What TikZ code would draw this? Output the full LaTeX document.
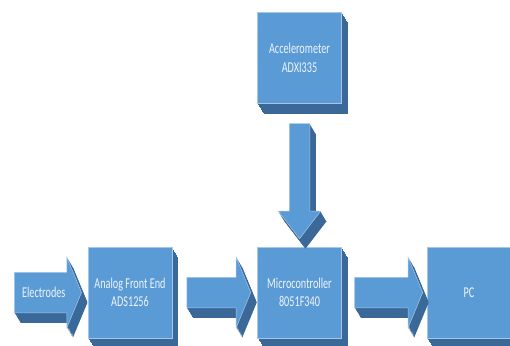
\documentclass[tikz,border=0pt]{standalone}
\usepackage{fontspec}
\setmainfont{Carlito}[FakeStretch=0.68]
\usetikzlibrary{shapes.arrows,shadows,positioning}

\definecolor{faceblue}{HTML}{5B9BD5}
\definecolor{sideblue}{HTML}{3A6898}
\definecolor{edgeblue}{HTML}{A4C6E8}
\definecolor{labelwhite}{HTML}{EEF4FB}

\tikzset{
  % stacked copies give the bevel below and to the right
  deep/.style={
    general shadow={fill=sideblue, shadow xshift=0.6pt, shadow yshift=-1pt},
    general shadow={fill=sideblue, shadow xshift=1.2pt, shadow yshift=-2pt},
    general shadow={fill=sideblue, shadow xshift=1.8pt, shadow yshift=-3pt},
    general shadow={fill=sideblue, shadow xshift=2.4pt, shadow yshift=-4pt},
    general shadow={fill=sideblue, shadow xshift=3pt, shadow yshift=-5pt},
    general shadow={fill=sideblue, shadow xshift=3.6pt, shadow yshift=-6pt},
    general shadow={fill=sideblue, shadow xshift=4.2pt, shadow yshift=-7pt},
    general shadow={fill=sideblue, shadow xshift=4.8pt, shadow yshift=-8pt},
    general shadow={fill=sideblue, shadow xshift=5.4pt, shadow yshift=-9pt},
    general shadow={fill=sideblue, shadow xshift=6pt, shadow yshift=-10pt}
  },
  blockbox/.style={draw=edgeblue, line width=0.5pt, fill=faceblue, deep,
    minimum width=84pt, minimum height=91pt, inner sep=0pt, align=center,
    text=labelwhite, font=\fontsize{15}{18.5}\selectfont},
  flowarrow/.style={single arrow, draw=edgeblue, line width=0.5pt, fill=faceblue, deep,
    single arrow tip angle=135, inner xsep=0pt, inner ysep=15pt,
    text height=0pt, text depth=0pt, single arrow head extend=20pt,
    minimum height=64pt}
}

\begin{document}
\begin{tikzpicture}[x=1pt,y=-1pt]
\pgfmathsetmacro{\gap}{85} % space between two blocks, pt
\clip (0,0) rectangle (510,345);
\useasboundingbox (0,0) rectangle (510,345);

% Blocks of the chain
\node[blockbox] (afe) at (130,292.5) {Analog Front End\\ADS1256};
\node[blockbox, right=\gap pt of afe] (mcu) {Microcontroller\\8051F340};
\node[blockbox, right=\gap pt of mcu] (pc) {PC};
\node[blockbox, above=143pt of mcu] (acc) {Accelerometer\\ADXI335};

% Input arrow
\node[flowarrow, left=6pt of afe, inner xsep=4pt, inner ysep=15pt, text height=10pt,
  single arrow head extend=15pt, minimum height=67pt, text=labelwhite,
  font=\fontsize{15}{18.5}\selectfont] (elec) {Electrodes};

% Arrows between blocks
\path (afe) -- (mcu) node[flowarrow, pos=0.51] (afe2mcu) {};
\path (mcu) -- (pc) node[flowarrow, pos=0.515, minimum height=68pt] (mcu2pc) {};
\path (acc) -- (mcu) node[flowarrow, pos=0.495, shape border rotate=270,
  inner sep=10pt, single arrow head extend=11pt, single arrow tip angle=75,
  minimum height=115pt] (acc2mcu) {};
\end{tikzpicture}
\end{document}
